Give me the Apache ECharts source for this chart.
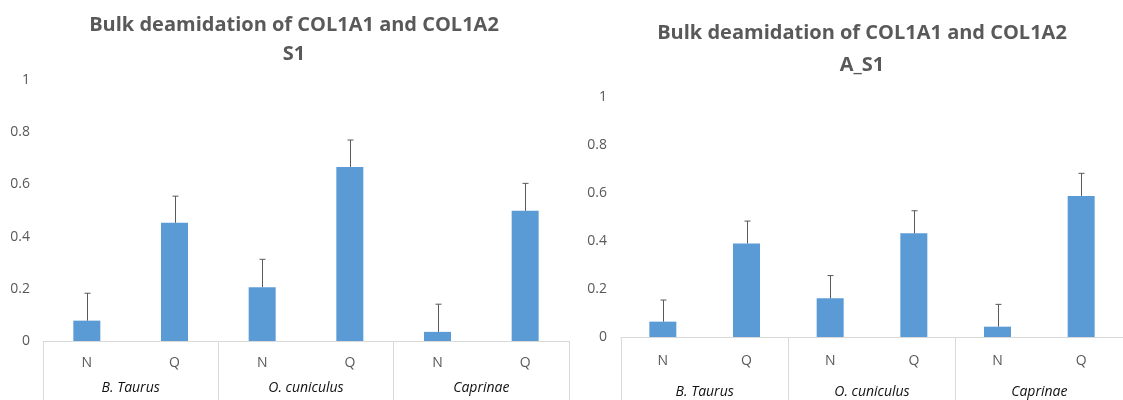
<!DOCTYPE html>
<html>
<head>
<meta charset="utf-8">
<title>Bulk deamidation</title>
<script src="https://cdn.jsdelivr.net/npm/echarts@6/dist/echarts.min.js"></script>
<style>
  html, body { margin: 0; padding: 0; background: #fff; }
  #chartmain { width: 1123px; height: 400px; }
</style>
</head>
<body>
<div id="chartmain"></div>
<script>
// data
var categories = ['N', 'Q', 'N', 'Q', 'N', 'Q'];
var species = ['B. Taurus', 'O. cuniculus', 'Caprinae'];
var titleS1 = 'Bulk deamidation of COL1A1 and COL1A2\nS1';
var titleAS1 = 'Bulk deamidation of COL1A1 and COL1A2\nA_S1';
var valuesS1 = [0.078, 0.453, 0.206, 0.667, 0.035, 0.499];
var errorsS1 = [0.105, 0.102, 0.107, 0.103, 0.106, 0.105];
var valuesAS1 = [0.064, 0.390, 0.161, 0.432, 0.043, 0.588];
var errorsAS1 = [0.090, 0.093, 0.095, 0.094, 0.093, 0.094];
var yMin = 0, yMax = 1, yStep = 0.2;

var font = '"Open Sans", sans-serif';
var grey = '#595959';
var lineGrey = '#d9d9d9';

function xAxes(gridIndex, m1, m2) {
    return [{
        type: 'category',
        gridIndex: gridIndex,
        data: categories,
        position: 'bottom',
        axisLine: { lineStyle: { color: lineGrey, width: 1 } },
        axisTick: {
            show: true,
            interval: function (i) { return i % 2 === 0; },
            length: 70,
            lineStyle: { color: lineGrey }
        },
        axisLabel: { interval: 0, margin: m1, color: grey, fontSize: 14, lineHeight: 14, fontFamily: font }
    }, {
        type: 'category',
        gridIndex: gridIndex,
        data: species,
        position: 'bottom',
        offset: 0,
        axisLine: { show: false },
        axisTick: { show: false },
        axisLabel: { interval: 0, margin: m2, color: '#111', fontSize: 14, lineHeight: 14, fontStyle: 'italic', fontFamily: font }
    }];
}

function yAxis(gridIndex, margin) {
    return {
        type: 'value',
        gridIndex: gridIndex,
        min: yMin,
        max: yMax,
        interval: yStep,
        axisLine: { show: false },
        axisTick: { show: false },
        splitLine: { show: false },
        axisLabel: { margin: margin, color: grey, fontSize: 14, fontFamily: font }
    };
}

function errorBars(values, errors, xi, yi) {
    return {
        type: 'custom',
        xAxisIndex: xi,
        yAxisIndex: yi,
        z: 5,
        data: values.map(function (v, i) { return [i, v, v + errors[i]]; }),
        renderItem: function (params, api) {
            var base = api.coord([api.value(0), api.value(1)]);
            var top = api.coord([api.value(0), api.value(2)]);
            var x = Math.round(base[0]) + 0.5;
            var style = { stroke: grey, lineWidth: 1 };
            return {
                type: 'group',
                children: [
                    { type: 'line', shape: { x1: x, y1: base[1], x2: x, y2: top[1] }, style: style },
                    { type: 'line', shape: { x1: x - 3, y1: top[1], x2: x + 3, y2: top[1] }, style: style }
                ]
            };
        }
    };
}

var option = {
    animation: false,
    title: [{
        text: titleS1,
        left: 294,
        top: 11,
        padding: 0,
        textAlign: 'center',
        textStyle: { fontFamily: font, fontSize: 20, fontWeight: 'bold', color: grey, lineHeight: 29 }
    }, {
        text: titleAS1,
        left: 862,
        top: 17,
        padding: 0,
        textAlign: 'center',
        textStyle: { fontFamily: font, fontSize: 20, fontWeight: 'bold', color: grey, lineHeight: 32 }
    }],
    grid: [
        { left: 43, top: 80, width: 526, bottom: 59 },
        { left: 621, top: 97, width: 512, bottom: 63 }
    ],
    xAxis: xAxes(0, 15, 40).concat(xAxes(1, 17, 48)),
    yAxis: [yAxis(0, 13), yAxis(1, 14)],
    series: [{
        type: 'bar',
        xAxisIndex: 0,
        yAxisIndex: 0,
        barWidth: 27,
        itemStyle: { color: '#5b9bd5' },
        data: valuesS1
    },
    errorBars(valuesS1, errorsS1, 0, 0),
    {
        type: 'bar',
        xAxisIndex: 2,
        yAxisIndex: 1,
        barWidth: 27,
        itemStyle: { color: '#5b9bd5' },
        data: valuesAS1
    },
    errorBars(valuesAS1, errorsAS1, 2, 1)]
};

var myChart = echarts.init(document.getElementById('chartmain'));
myChart.setOption(option);
</script>
</body>
</html>
